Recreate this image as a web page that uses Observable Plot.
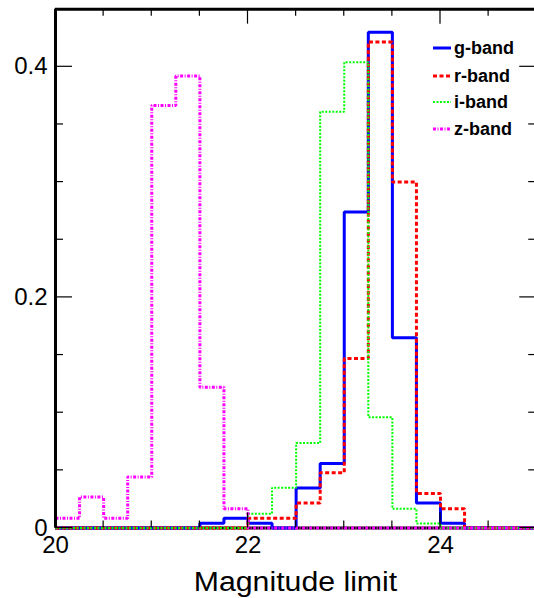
<!DOCTYPE html>
<html><head><meta charset="utf-8">
<script src="https://cdn.jsdelivr.net/npm/d3@7"></script>
<script src="https://cdn.jsdelivr.net/npm/@observablehq/plot@0.6"></script>
<style>
html,body{margin:0;padding:0;background:#fff;overflow:hidden}
#wrap{position:relative;width:534px;height:598px;font-family:"Liberation Sans",Arial,Helvetica,sans-serif}
.leg{position:absolute;left:433px;height:20px;line-height:20px;font-weight:bold;font-size:18px;white-space:nowrap;color:#000}
.leg svg{position:absolute;left:0;top:0}
.leg span{position:absolute;left:21px;top:0}
#xlabel{position:absolute;left:0;width:591px;text-align:center;top:569px;font-size:27px;line-height:27px;transform:scaleX(1.12);transform-origin:295.6px 0}
</style></head><body><div id="wrap"></div>
<script>
// bin edges (21 edges -> 20 bins of 0.25 mag)
const binEdges = [20,20.25,20.5,20.75,21,21.25,21.5,21.75,22,22.25,22.5,22.75,23,23.25,23.5,23.75,24,24.25,24.5,24.75,25];
// normalized fractions per bin
const gBand = [0,0,0,0,0,0,0.0042,0.0085,0.0042,0,0.0346,0.056,0.274,0.430,0.165,0.0216,0.0042,0,0,0];
const rBand = [0,0,0,0,0,0,0,0,0.0085,0.0085,0.0216,0.048,0.147,0.4216,0.300,0.030,0.0167,0,0,0];
const iBand = [0,0,0,0,0,0,0,0,0.0123,0.035,0.0737,0.361,0.404,0.096,0.0167,0.004,0,0,0,0];
const zBand = [0.0085,0.0268,0.0085,0.0442,0.3665,0.392,0.122,0.0167,0,0,0,0,0,0,0,0,0,0,0,0];

const bandNames = ["g-band","r-band","i-band","z-band"];
const bandValues = [gBand, rBand, iBand, zBand];
const bandColors = ["#0000ff","#ff0000","#00ff00","#ff00ff"];
const bandDash = [null,"4,2.5","2,1.5","3,1.5,1,1.5"];
const bandWidths = [3,3,2,3];

const xMajorTicks = [20,22,24];
const xMinorTicks = [20,20.5,21,21.5,22,22.5,23,23.5,24,24.5,25];
const yMajorTicks = [0,0.2,0.4];
const yMinorTicks = [0,0.05,0.1,0.15,0.2,0.25,0.3,0.35,0.4,0.45];
const xLabel = "Magnitude limit";

const rows = [];
bandNames.forEach((name, k) => {
  const vals = bandValues[k];
  vals.forEach((v, i) => rows.push({band: name, x: binEdges[i], y: v}));
  rows.push({band: name, x: binEdges[vals.length], y: vals[vals.length - 1]});
});

function tickMarks(index, scales, values, dims) {
  const {x, y} = scales;
  const L = dims.marginLeft, R = dims.width - dims.marginRight;
  const T = dims.marginTop, B = dims.height - dims.marginBottom;
  const g = d3.create("svg:g").attr("stroke", "black").attr("stroke-width", 1.2);
  for (const v of yMinorTicks) {
    const len = yMajorTicks.includes(v) ? 17 : 8;
    const yy = y(v);
    g.append("line").attr("x1", L).attr("x2", L + len).attr("y1", yy).attr("y2", yy);
    g.append("line").attr("x1", R).attr("x2", R - len).attr("y1", yy).attr("y2", yy);
  }
  for (const v of xMinorTicks) {
    const len = xMajorTicks.includes(v) ? 15 : 7;
    const xx = x(v);
    g.append("line").attr("x1", xx).attr("x2", xx).attr("y1", T).attr("y2", T + len);
    g.append("line").attr("x1", xx).attr("x2", xx).attr("y1", B).attr("y2", B - len);
  }
  return g.node();
}

const marks = [
  Plot.ruleY([0], {stroke: "black", strokeWidth: 3}),
  ...bandNames.map((name, k) => Plot.line(rows.filter(d => d.band === name), {
    x: "x", y: "y", curve: "step-after",
    stroke: bandColors[k], strokeWidth: bandWidths[k],
    strokeDasharray: bandDash[k], strokeLinecap: "butt", strokeLinejoin: "miter"
  })),
  Plot.ruleX([20], {stroke: "black", strokeWidth: 3}),
  Plot.ruleY([0.45], {stroke: "black", strokeWidth: 3}),
  tickMarks,
  Plot.axisX(xMajorTicks, {tickSize: 0, tickPadding: 8, tickFormat: d => String(d), label: null}),
  Plot.axisY(yMajorTicks, {tickSize: 0, tickPadding: 8, tickFormat: d => d === 0 ? "0" : d.toFixed(1), label: null})
];

const chart = Plot.plot({
  width: 534, height: 598,
  marginLeft: 55, marginRight: -2.25, marginTop: 8.65, marginBottom: 70.5,
  x: {domain: [20, 25]},
  y: {domain: [0, 0.45]},
  style: {fontFamily: "Liberation Sans, Arial, sans-serif", fontSize: "24px", color: "#000", background: "#fff", overflow: "visible"},
  marks
});

const wrap = document.getElementById("wrap");
wrap.appendChild(chart);

const legendY = [48, 76, 102, 129];
bandNames.forEach((name, k) => {
  const row = document.createElement("div");
  row.className = "leg";
  row.style.top = (legendY[k] - 10) + "px";
  const s = d3.create("svg").attr("width", 18).attr("height", 20);
  s.append("line").attr("x1", 0).attr("x2", 18).attr("y1", 10).attr("y2", 10)
    .attr("stroke", bandColors[k]).attr("stroke-width", bandWidths[k])
    .attr("stroke-dasharray", bandDash[k]);
  row.appendChild(s.node());
  const t = document.createElement("span");
  t.textContent = name;
  row.appendChild(t);
  wrap.appendChild(row);
});

const xl = document.createElement("div");
xl.id = "xlabel";
xl.textContent = xLabel;
wrap.appendChild(xl);
</script>
</body></html>
